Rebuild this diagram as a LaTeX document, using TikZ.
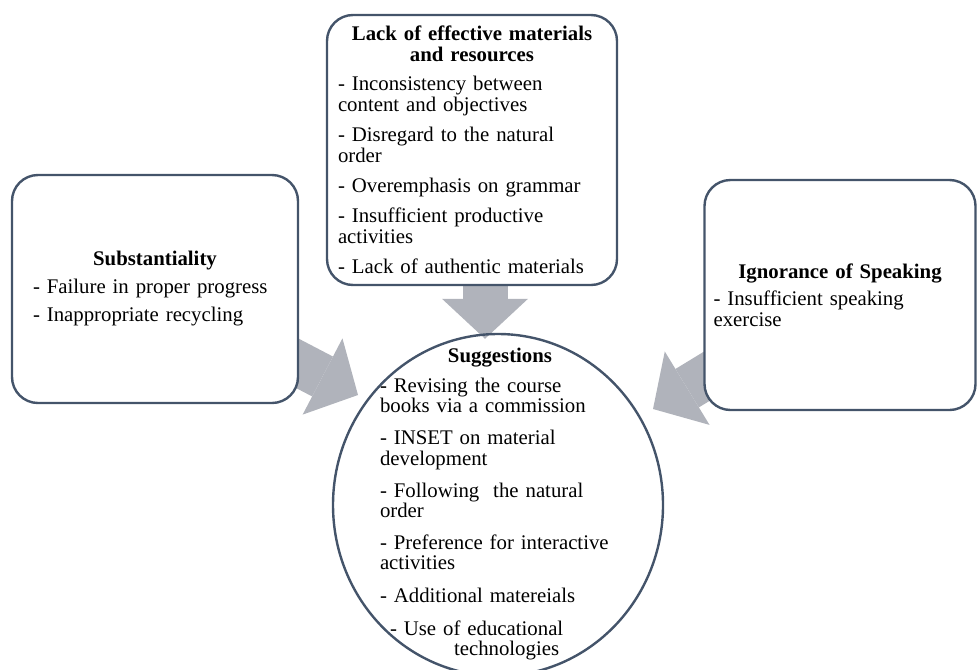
\documentclass[tikz,border=0pt]{standalone}
\usepackage{fontspec}
\setmainfont{Liberation Serif}
\usetikzlibrary{arrows.meta,shapes.geometric,calc}

\definecolor{frameblue}{RGB}{68,84,106}
\definecolor{arrowgray}{RGB}{176,179,187}

\pgfdeclarelayer{bg}
\pgfsetlayers{bg,main}

\setlength\parindent{0pt}
\newcommand{\heading}[2][3.5pt]{{\centering\textbf{#2}\par}\vspace{#1}}
\newcommand{\itemgap}{\\[4.5pt]}

\tikzset{
  box/.style={draw=frameblue, line width=1.2pt, rounded corners=13pt, fill=white,
    align=left, font=\fontsize{10.4}{10.5}\selectfont},
  bigarrow/.style={arrowgray, line width=22.5pt,
    -{Triangle[length=20pt,width=43pt,line width=0pt]}},
}

\begin{document}
\begin{tikzpicture}[x=0.5pt,y=-0.5pt]

  % Fix the size of the page
  \useasboundingbox (0,0) rectangle (977,669);

  % The circle with the suggestions
  \node[ellipse, draw=frameblue, line width=1.2pt, minimum width=165pt,
    minimum height=171pt, inner sep=0pt] (sugg) at (498,505) {};
  \node[align=left, text width=120pt, inner sep=0pt,
    font=\fontsize{10.4}{10.1}\selectfont] (suggtext) at (500,504) {%
    \heading[5pt]{Suggestions}
    - Revising the course\\ books via a commission\\[6pt]
    - INSET on material\\ development\\[6pt]
    - Following\ \ the natural\\ order\\[6pt]
    - Preference for interactive\\ activities\\[6pt]
    - Additional matereials\\[6.5pt]
    \hspace*{5pt}- Use of educational\\[0pt]
    \hspace*{37pt}technologies};

  % Top box
  \node[box, text width=134pt, inner xsep=5.5pt, minimum height=135pt] (lack) at (472,150) {%
    \heading[4pt]{Lack of effective materials\\ and resources}
    - Inconsistency between\\ content and objectives\itemgap
    - Disregard to the natural\\ order\itemgap
    - Overemphasis on grammar\itemgap
    - Insufficient productive\\ activities\itemgap
    - Lack of authentic materials};

  % Left box
  \node[box, text width=122pt, inner xsep=10.5pt, minimum height=114pt] (subst) at (155,289) {%
    \heading{Substantiality}
    - Failure in proper progress\\[3.5pt]
    - Inappropriate recycling};

  % Right box
  \node[box, text width=126.5pt, inner xsep=4.5pt, minimum height=115pt] (ignor) at (840,295) {%
    \heading[3pt]{Ignorance of Speaking}
    - Insufficient speaking\\ exercise};

  % Tips of the arrows, next to the circle
  \coordinate (tipT) at ($(sugg.north)+(-13,6)$);
  \coordinate (tipL) at ($(sugg.center)+(-140,-110)$);
  \coordinate (tipR) at ($(sugg.center)+(155,-96)$);

  % Block arrows, behind the boxes
  \begin{pgfonlayer}{bg}
    \draw[bigarrow] (tipT |- lack.center) -- (tipT);
    \draw[bigarrow] (subst.center) -- (tipL);
    \draw[bigarrow] (ignor.center) -- (tipR);
  \end{pgfonlayer}

\end{tikzpicture}
\end{document}
